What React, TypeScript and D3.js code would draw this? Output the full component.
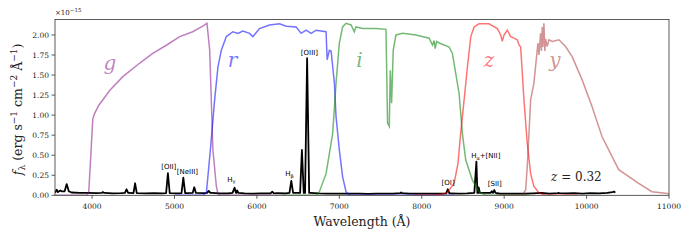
import React from 'react';
import * as d3 from 'd3';

// spectrum continuum, read every 100 Å (flux in 1e-15 units)
const contWave = d3.range(3550, 10351, 100);
const contFlux = [
  0.04, 0.05, 0.035, 0.03, 0.03, 0.028, 0.03, 0.025, 0.027, 0.03, 0.026, 0.024, 0.027, 0.025,
  0.026, 0.024, 0.027, 0.03, 0.028, 0.03, 0.025, 0.024, 0.03, 0.024, 0.022, 0.025, 0.023, 0.026,
  0.025, 0.03, 0.03, 0.03, 0.024, 0.022, 0.02, 0.022, 0.02, 0.021, 0.019, 0.02, 0.022, 0.02,
  0.028, 0.02, 0.022, 0.02, 0.021, 0.022, 0.025, 0.022, 0.025, 0.03, 0.03, 0.03, 0.02, 0.022,
  0.02, 0.02, 0.024, 0.03, 0.02, 0.028, 0.024, 0.026, 0.022, 0.027, 0.025, 0.03, 0.04,
];

// emission lines: centre (Å), peak flux, half width at base (Å)
const lineWave = [3570, 3615, 3692, 4131, 4418, 4522, 4920, 5107, 5240, 5415, 5729, 5760, 6186, 6417, 6546, 6609, 7750, 8316, 8663, 8690, 8850, 8880, 9660, 10330];
const linePeak = [0.07, 0.06, 0.14, 0.04, 0.075, 0.15, 0.275, 0.22, 0.1, 0.055, 0.095, 0.06, 0.045, 0.18, 0.565, 1.71, 0.035, 0.075, 0.42, 0.1, 0.05, 0.066, 0.03, 0.045];
const lineHalf = [15, 15, 25, 15, 20, 20, 22, 22, 20, 20, 25, 15, 20, 22, 22, 25, 10, 20, 25, 15, 15, 15, 10, 15];

// filter transmission curves (scaled to flux units)
const gCurve = [[3550, 0], [3940, 0], [3960, 0.05], [3985, 0.5], [4008, 0.95], [4030, 1.02], [4080, 1.12], [4216, 1.31], [4373, 1.48], [4579, 1.65], [4736, 1.77], [4906, 1.875], [5063, 1.98], [5221, 2.04], [5342, 2.11], [5394, 2.145], [5427, 1.81], [5466, 0.565], [5508, 0.11], [5527, 0.02], [5548, 0], [6200, 0]];
const rCurve = [[5000, 0], [5342, 0], [5387, 0.03], [5435, 0.565], [5487, 1.19], [5527, 1.6], [5568, 1.81], [5629, 1.98], [5709, 2.04], [5769, 2.02], [5830, 2.05], [5911, 2.02], [5951, 1.98], [6032, 2.08], [6153, 2.125], [6274, 2.14], [6355, 2.11], [6476, 2.1], [6537, 2.02], [6597, 2.06], [6658, 2.02], [6718, 2.06], [6839, 2.04], [6852, 1.69], [6879, 1.81], [6900, 1.8], [6940, 1.4], [6960, 0.98], [7000, 0.565], [7040, 0.23], [7081, 0.045], [7122, 0], [8400, 0]];
const iCurve = [[6300, 0], [6718, 0], [6758, 0.045], [6839, 0.27], [6919, 0.77], [6960, 1.4], [7000, 1.9], [7040, 2.1], [7081, 2.145], [7142, 2.125], [7182, 2.04], [7202, 2.1], [7283, 2.08], [7445, 2.08], [7566, 2.07], [7585, 0.9], [7606, 0.86], [7618, 1.56], [7634, 1.15], [7654, 1.81], [7687, 2.0], [7767, 2.02], [7929, 2.0], [8090, 1.96], [8130, 1.875], [8150, 1.93], [8163, 1.83], [8180, 1.92], [8211, 1.9], [8332, 1.85], [8372, 1.77], [8453, 1.27], [8493, 0.77], [8534, 0.44], [8614, 0.19], [8695, 0.045], [8777, 0], [9300, 0]];
const zCurve = [[7900, 0], [8171, 0], [8308, 0.03], [8393, 0.15], [8440, 0.4], [8470, 0.75], [8514, 1.19], [8554, 1.6], [8595, 1.98], [8635, 2.1], [8695, 2.14], [8816, 2.14], [8917, 2.08], [8958, 2.0], [8977, 1.92], [8998, 2.0], [9038, 2.06], [9079, 1.98], [9119, 1.96], [9159, 1.94], [9180, 1.875], [9200, 1.85], [9240, 1.19], [9280, 0.65], [9321, 0.27], [9361, 0.11], [9422, 0.03], [9503, 0], [9900, 0]];
const yCurve = [[8900, 0], [9216, 0], [9261, 0.066], [9280, 0.36], [9301, 0.77], [9321, 1.19], [9361, 1.4], [9389, 1.69], [9410, 1.9], [9422, 1.75], [9442, 2.02], [9452, 1.8], [9462, 2.1], [9470, 1.85], [9482, 2.145], [9494, 1.8], [9503, 1.95], [9522, 1.855], [9543, 1.94], [9583, 1.92], [9664, 1.94], [9745, 1.855], [9825, 1.73], [9946, 1.44], [10067, 1.105], [10188, 0.73], [10390, 0.32], [10632, 0.15], [10793, 0.045], [10955, 0.025], [11000, 0.02]];

const filterNames = ['g', 'r', 'i', 'z', 'y'];
const filterCurves = [gCurve, rCurve, iCurve, zCurve, yCurve];
const filterColors = ['purple', 'blue', 'green', 'red', 'brown'];
const filterAlpha = [0.5, 0.55, 0.55, 0.55, 0.5];
const filterLabelWave = [4216, 5705, 7243, 8817, 9616];
const filterLabelFlux = [1.563, 1.6, 1.6, 1.6, 1.6];

// line annotations: main text, subscript, rest of text
const annText = ['[OII]', '[NeIII]', 'H', 'H', '[OIII]', '[OI]', 'H', '[SII]'];
const annSub = ['', '', 'γ', 'β', '', '', 'α', ''];
const annTail = ['', '', '', '', '', '', '+[NII]', ''];
const annWave = [4930, 5157, 5689, 6395, 6637, 8320, 8777, 8886];
const annFlux = [0.33, 0.266, 0.166, 0.24, 1.75, 0.128, 0.465, 0.116];

const xTicks = [4000, 5000, 6000, 7000, 8000, 9000, 10000, 11000];
const yTicks = [0, 0.25, 0.5, 0.75, 1.0, 1.25, 1.5, 1.75, 2.0];

const width = 692;
const height = 242;
const margin = { top: 19.5, right: 23, bottom: 46.7, left: 55 };

const serif = { fontFamily: "'DejaVu Serif', serif" };
const sans = { fontFamily: "'DejaVu Sans', sans-serif" };

function buildSpectrum() {
  const pts: [number, number][] = [];
  contWave.forEach((w, i) => {
    const inside = lineWave.some((c, j) => Math.abs(w - c) <= lineHalf[j]);
    if (!inside) pts.push([w, contFlux[i]]);
  });
  lineWave.forEach((c, j) => {
    const k = Math.min(contFlux.length - 1, Math.max(0, Math.round((c - 3550) / 100)));
    const base = contFlux[k];
    pts.push([c - lineHalf[j], base]);
    pts.push([c, linePeak[j]]);
    pts.push([c + lineHalf[j], base]);
  });
  return pts.sort((a, b) => a[0] - b[0]);
}

export default function App() {
  const x = d3.scaleLinear().domain([3550, 11000]).range([margin.left, width - margin.right]);
  const y = d3.scaleLinear().domain([0, 2.193]).range([height - margin.bottom, margin.top]);
  const line = d3.line<number[]>().x(d => x(d[0])).y(d => y(d[1]));
  const spectrum = buildSpectrum();
  const x0 = margin.left, x1 = width - margin.right;
  const y0 = height - margin.bottom, y1 = margin.top;

  return (
    <svg width={width} height={height} style={{ position: 'absolute', left: 0, top: 0, background: '#fff' }}>
      <defs>
        <clipPath id="plot">
          <rect x={x0} y={y1} width={x1 - x0} height={y0 - y1} />
        </clipPath>
      </defs>
      <g clipPath="url(#plot)">
        <path d={line(spectrum) ?? ''} fill="none" stroke="#000" strokeWidth={1.8} strokeLinejoin="round" />
        {filterCurves.map((c, i) => (
          <path key={i} d={line(c) ?? ''} fill="none" stroke={filterColors[i]} strokeOpacity={filterAlpha[i]} strokeWidth={1.5} />
        ))}
      </g>
      {filterNames.map((n, i) => (
        <text key={n} x={x(filterLabelWave[i])} y={y(filterLabelFlux[i])} textAnchor="middle" style={serif}
          fontStyle="italic" fontSize={20} fill={filterColors[i]} fillOpacity={filterAlpha[i]}>{n}</text>
      ))}
      {annText.map((t, i) => (
        <text key={i} x={x(annWave[i])} y={y(annFlux[i])} textAnchor="middle" style={sans} fontSize={7} fill="#000">
          {t}
          {annSub[i] && <tspan fontSize={5} dy={1.5}>{annSub[i]}</tspan>}
          {annTail[i] && <tspan dy={-1.5}>{annTail[i]}</tspan>}
        </text>
      ))}
      <text x={x(9876)} y={y(0.178)} textAnchor="middle" style={serif} fontSize={12} fill="#222">
        <tspan fontStyle="italic">z</tspan> = 0.32
      </text>
      {/* frame */}
      <rect x={x0} y={y1} width={x1 - x0} height={y0 - y1} fill="none" stroke="#333" strokeWidth={0.8} />
      {xTicks.map(t => (
        <g key={t}>
          <line x1={x(t)} x2={x(t)} y1={y0} y2={y0 + 3.5} stroke="#333" strokeWidth={0.8} />
          <text x={x(t)} y={y0 + 13.5} textAnchor="middle" style={serif} fontSize={7.5} fill="#222">{t}</text>
        </g>
      ))}
      {yTicks.map(t => (
        <g key={t}>
          <line x1={x0 - 3.5} x2={x0} y1={y(t)} y2={y(t)} stroke="#333" strokeWidth={0.8} />
          <text x={x0 - 6} y={y(t) + 3} textAnchor="end" style={serif} fontSize={7.5} fill="#222">{t.toFixed(2)}</text>
        </g>
      ))}
      <text x={x0} y={15} style={serif} fontSize={7} fill="#222">
        ×10<tspan fontSize={5.5} dy={-3.5}>−15</tspan>
      </text>
      <text x={(x0 + x1) / 2} y={226} textAnchor="middle" style={serif} fontSize={12.5} fill="#222">Wavelength (Å)</text>
      <text transform={`translate(22, ${(y0 + y1) / 2 + 2}) rotate(-90)`} textAnchor="middle" style={serif} fontSize={12.5} fill="#222">
        <tspan fontStyle="italic">f</tspan>
        <tspan fontSize={9} dy={3}>λ</tspan>
        <tspan dy={-3}>  (erg s</tspan>
        <tspan fontSize={9} dy={-5}>−1</tspan>
        <tspan dy={5}> cm</tspan>
        <tspan fontSize={9} dy={-5}>−2</tspan>
        <tspan dy={5}> Å</tspan>
        <tspan fontSize={9} dy={-5}>−1</tspan>
        <tspan dy={5}>)</tspan>
      </text>
    </svg>
  );
}
